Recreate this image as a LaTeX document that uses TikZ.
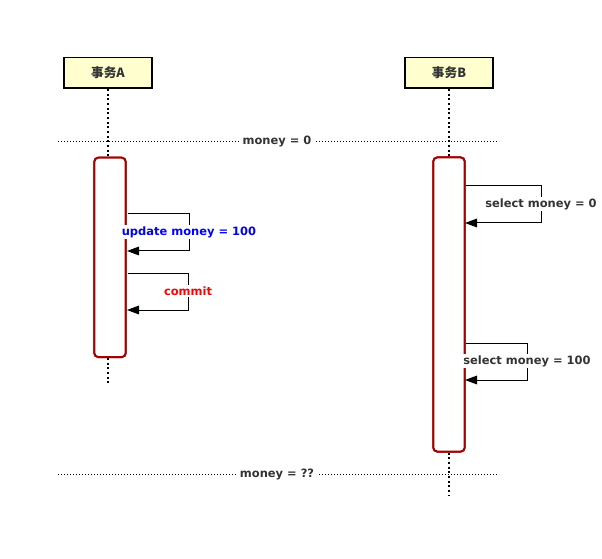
\documentclass[tikz,border=0pt]{standalone}
\usepackage{fontspec}
\setmainfont{DejaVu Sans}
\newfontfamily\cjk{Noto Sans CJK SC}
\usetikzlibrary{arrows.meta}
\definecolor{boxfill}{RGB}{254,254,206}
\definecolor{actred}{RGB}{163,0,0}
\definecolor{txtgray}{RGB}{51,51,51}

\begin{document}
\begin{tikzpicture}[x=0.75pt,y=-0.75pt,>={Triangle[length=9pt,width=6.5pt]},line join=miter,
  party/.style={draw=black,line width=1.1pt,fill=boxfill,minimum width=66pt,minimum height=23pt,inner sep=0pt,text=txtgray,font=\cjk\bfseries\fontsize{9.5}{11}\selectfont},
  actbar/.style={draw=actred,line width=1.5pt,fill=white,rounded corners=3pt,minimum width=23.5pt,inner sep=0pt},
  lifeline/.style={line width=1.6pt,dash pattern=on 1.5pt off 2pt},
  sepline/.style={line width=0.75pt,dash pattern=on 0.75pt off 1.5pt},
  selfmsg/.style={->,line width=0.75pt},
  msglabel/.style={fill=white,inner sep=1pt,text=txtgray,font=\bfseries\fontsize{8.6}{10}\selectfont}]
\useasboundingbox (0,0) rectangle (602,559);
% participants
\node[party] (A) at (108,72.8) {事务A};
\node[party] (B) at (449,72.8) {事务B};
\coordinate (endA) at (108,384);
\coordinate (endB) at (449,495);
% lifelines
\node[actbar,minimum height=149.5pt] (actA) at (110,257.4) {};
\node[actbar,minimum height=220.6pt] (actB) at (449,304.5) {};
\draw[lifeline] (A.south) -- (A.south |- actA.north);
\draw[lifeline] (A.south |- actA.south) -- (endA);
\draw[lifeline] (B.south) -- (B.south |- actB.north);
\draw[lifeline] (B.south |- actB.south) -- (endB);
\node[actbar,minimum height=149.5pt] at (actA) {};
\node[actbar,minimum height=220.6pt] at (actB) {};
% separators
\coordinate (s1l) at (58,141.5);
\coordinate (s1r) at (499,141.5);
\coordinate (s2l) at (58,474.5);
\coordinate (s2r) at (499,474.5);
\draw[sepline] (s1l) -- (s1r);
\draw[sepline] (s2l) -- (s2r);
\node[msglabel,inner xsep=2pt] (m0) at (277,141.5) {money = 0};
\node[msglabel,inner xsep=2pt] (m1) at (277,474.5) {money = ??};
% messages of A
\coordinate (u1) at (128,214);
\coordinate (u2) at (189,251);
\coordinate (u3) at (127,251);
\draw[selfmsg] (u1) -| (u2) -- (u3);
\node[msglabel,text=blue] (upd) at (189,232) {update money = 100};
\coordinate (c1) at (128,273);
\coordinate (c2) at (188,310);
\coordinate (c3) at (127,310);
\draw[selfmsg] (c1) -| (c2) -- (c3);
\node[msglabel,text=red] (com) at (188,291) {commit};
% messages of B
\coordinate (r1) at (466,186);
\coordinate (r2) at (541,223);
\coordinate (r3) at (465,223);
\draw[selfmsg] (r1) -| (r2) -- (r3);
\node[msglabel] (sel0) at (541,204) {select money = 0};
\coordinate (q1) at (466,343);
\coordinate (q2) at (527,380);
\coordinate (q3) at (465,380);
\draw[selfmsg] (q1) -| (q2) -- (q3);
\node[msglabel] (sel1) at (527,361) {select money = 100};
\end{tikzpicture}
\end{document}
